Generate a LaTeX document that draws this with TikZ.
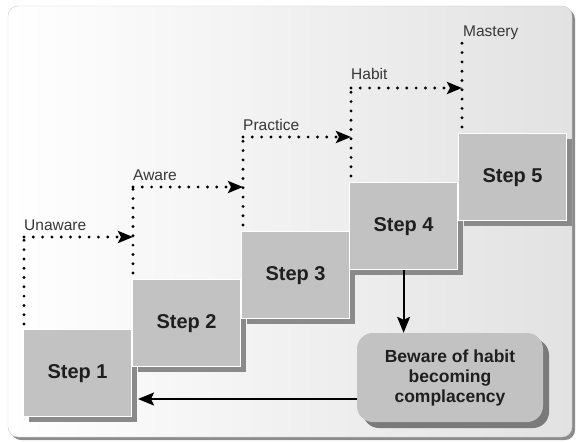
\documentclass[tikz,border=0pt]{standalone}
\usepackage{fontspec}
\setmainfont{Liberation Sans}
\usetikzlibrary{arrows.meta,calc}
\definecolor{boxfill}{RGB}{194,194,194}
\definecolor{shadowc}{RGB}{138,138,138}
\definecolor{labelc}{RGB}{55,55,55}
\definecolor{panelr}{RGB}{226,226,226}
\begin{document}
\begin{tikzpicture}[x=1pt,y=-1pt,
  stepbox/.style={draw=white, line width=1.2pt, fill=boxfill, minimum width=108pt, minimum height=87pt, anchor=north west, inner sep=0pt, font=\fontsize{20}{24}\selectfont\bfseries, text=black!88},
  shadowbox/.style={fill=shadowc, draw=none, minimum width=108pt, minimum height=87pt, anchor=north west, inner sep=0pt},
  dotline/.style={line width=3.2pt, line cap=round, dash pattern=on 0pt off 9.3pt},
  dottip/.style={-{Stealth[length=15pt,width=12pt,inset=3pt]}},
  solidarrow/.style={line width=1.8pt, -{Stealth[length=16pt,width=13pt,inset=3pt]}},
  lbl/.style={anchor=base west, inner sep=0pt, text=labelc, font=\fontsize{15.5}{18}\selectfont},
  bwbox/.style={rounded corners=16pt, minimum width=186pt, minimum height=89pt, inner sep=0pt, align=center, font=\fontsize{17.5}{20}\selectfont\bfseries, text=black!88}
]
\useasboundingbox (0,0) rectangle (577,441);
% panel
\fill[black!45, rounded corners=10pt] (11,9) rectangle (575,440);
\shade[left color=white, right color=panelr, rounded corners=10pt, draw=black!20] (8,6) rectangle (572,437);

% shadows
\node[shadowbox] (sh1) at (29,335) {};
\node[shadowbox] (sh2) at (138,285) {};
\node[shadowbox] (sh3) at (247,237) {};
\node[shadowbox] (sh4) at (355,188) {};
\node[shadowbox] (sh5) at (464,139) {};
% steps
\node[stepbox] (s1) at (23,329) {Step 1};
\node[stepbox] (s2) at (132,279) {Step 2};
\node[stepbox] (s3) at (241,231) {Step 3};
\node[stepbox] (s4) at (349,182) {Step 4};
\node[stepbox] (s5) at (458,133) {Step 5};

% dotted paths
\coordinate (u1) at ($(s1.north west)+(1,-92)$);
\coordinate (u2) at ($(s2.north west)+(1,-92)$);
\coordinate (u3) at ($(s3.north west)+(2,-94)$);
\coordinate (u4) at ($(s4.north west)+(2,-94)$);
\coordinate (u5) at ($(s5.north west)+(4,-94)$);

\draw[dotline] ($(s1.north west)+(1,-5)$) -- (u1);
\draw[dotline, dottip] (u1) -- ($(u1 -| s2.north west)+(1,0)$);
\draw[dotline] ($(s2.north west)+(1,-6)$) -- (u2);
\draw[dotline, dottip] (u2) -- ($(u2 -| s3.north west)+(2,0)$);
\draw[dotline] ($(s3.north west)+(2,-6)$) -- (u3);
\draw[dotline, dottip] (u3) -- ($(u3 -| s4.north west)+(2,0)$);
\draw[dotline] ($(s4.north west)+(2,-6)$) -- (u4);
\draw[dotline, dottip] (u4) -- ($(u4 -| s5.north west)+(4,0)$);
\draw[dotline] ($(s5.north west)+(4,-6)$) -- (u5);

% labels
\node[lbl] (l1) at ($(u1)+(0,-7)$) {Unaware};
\node[lbl] (l2) at ($(u2)+(0,-7)$) {Aware};
\node[lbl] (l3) at ($(u3)+(0,-7)$) {Practice};
\node[lbl] (l4) at ($(u4)+(0,-8)$) {Habit};
\node[lbl] (l5) at ($(u5)+(1,-2)$) {Mastery};

% beware box
\node[bwbox, fill=black!52] (bwsh) at (456,383.5) {};
\node[bwbox, fill=boxfill] (bw) at (450,377.5) {Beware of habit\\becoming\\complacency};

% arrows
\draw[solidarrow] (s4.south) -- (s4.south |- bw.north);
\coordinate (lt) at (138,399);
\draw[solidarrow] (lt -| bw.west) -- (lt);
\end{tikzpicture}
\end{document}
